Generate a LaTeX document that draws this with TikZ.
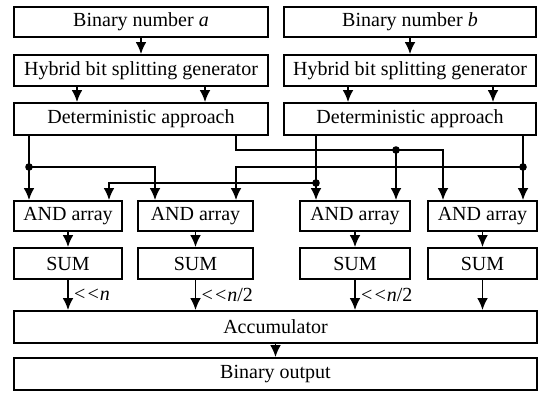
\documentclass[tikz,border=0pt]{standalone}
\usepackage{fontspec}
\setmainfont{Liberation Serif}
\usetikzlibrary{arrows.meta}

\begin{document}
\begin{tikzpicture}[
          x=0.5pt, y=-0.5pt,
          font=\fontsize{10}{12}\selectfont,
          blk/.style={
            draw,
            line width=0.9pt,
            inner sep=0pt},
          wire/.style={line width=0.9pt},
          arr/.style={wire, -{Latex[length=6pt,width=5.4pt]}},
          tap/.style={circle, fill, inner sep=0pt, minimum size=3.8pt},
          shiftlbl/.style={right, inner sep=2pt, font=\fontsize{10}{12}\selectfont},
        ]
          \useasboundingbox (0,0) rectangle (546,393);
          % inputs
          \node[blk, minimum width=127pt, minimum height=15pt] (numa) at (141,22) {Binary number \textit{a}};
          \node[blk, minimum width=126pt, minimum height=15pt] (numb) at (410,22) {Binary number \textit{b}};
          \node[blk, minimum width=127pt, minimum height=15.5pt] (hbsa) at (141,70.5) {Hybrid bit splitting generator};
          \node[blk, minimum width=126pt, minimum height=15.5pt] (hbsb) at (410,70.5) {Hybrid bit splitting generator};
          \node[blk, minimum width=127pt, minimum height=16pt] (deta) at (141,119) {Deterministic approach};
          \node[blk, minimum width=126pt, minimum height=16pt] (detb) at (410,119) {Deterministic approach};
          % AND arrays and sums
          \node[blk, minimum width=54pt, minimum height=15pt] (and1) at (68,216) {AND array};
          \node[blk, minimum width=57.5pt, minimum height=15pt] (and2) at (195.5,216) {AND array};
          \node[blk, minimum width=55pt, minimum height=15pt] (and3) at (355,216) {AND array};
          \node[blk, minimum width=54.5pt, minimum height=15pt] (and4) at (482.5,216) {AND array};
          \node[blk, minimum width=54pt, minimum height=15.5pt] (sum1) at (68,263.5) {SUM};
          \node[blk, minimum width=57.5pt, minimum height=15.5pt] (sum2) at (195.5,263.5) {SUM};
          \node[blk, minimum width=55pt, minimum height=15.5pt] (sum3) at (355,263.5) {SUM};
          \node[blk, minimum width=54.5pt, minimum height=15.5pt] (sum4) at (482.5,263.5) {SUM};
          \node[blk, minimum width=261.5pt, minimum height=16pt] (acc) at (275.5,327) {Accumulator};
          \node[blk, minimum width=261.5pt, minimum height=16pt] (out) at (275.5,374) {Binary output};

          \draw[arr] (numa) -- (hbsa);
          \draw[arr] (numb) -- (hbsb);
          \foreach \x in {77,205}
            \draw[arr] (hbsa.south -| \x,0) -- (deta.north -| \x,0);
          \foreach \x in {348,493}
            \draw[arr] (hbsb.south -| \x,0) -- (detb.north -| \x,0);

          % crossing wires
          \coordinate (ja) at (29,167);
          \coordinate (jb) at (396,150);
          \coordinate (jc) at (316,183);
          \coordinate (jd) at (523,167);
          \draw[arr] (deta.south -| ja) -- (and1.north -| ja);
          \draw[arr] (ja) -| (and2.north -| 155,0);
          \draw[arr] (deta.south -| 236,0) |- (jb) -| (and4.north -| 443,0);
          \draw[arr] (jb) -- (and3.north -| jb);
          \draw[arr] (detb.south -| jc) -- (and3.north -| jc);
          \draw[arr] (jc) -| (and1.north -| 109,0);
          \draw[arr] (detb.south -| jd) -- (and4.north -| jd);
          \draw[arr] (jd) -| (and2.north -| 236,0);
          \foreach \j in {ja,jb,jc,jd}
            \node[tap] (t\j) at (\j) {};

          \foreach \i in {1,...,4}
            \draw[arr] (and\i) -- (sum\i);
          \draw[arr] (sum1) -- node[shiftlbl] {\textit{<{}<n}} (acc.north -| sum1);
          \draw[arr] (sum2) -- node[shiftlbl] {\textit{<{}<n}/2} (acc.north -| sum2);
          \draw[arr] (sum3) -- node[shiftlbl] {\textit{<{}<n}/2} (acc.north -| sum3);
          \draw[arr] (sum4) -- (acc.north -| sum4);
          \draw[arr] (acc) -- (out);
        \end{tikzpicture}
\end{document}
